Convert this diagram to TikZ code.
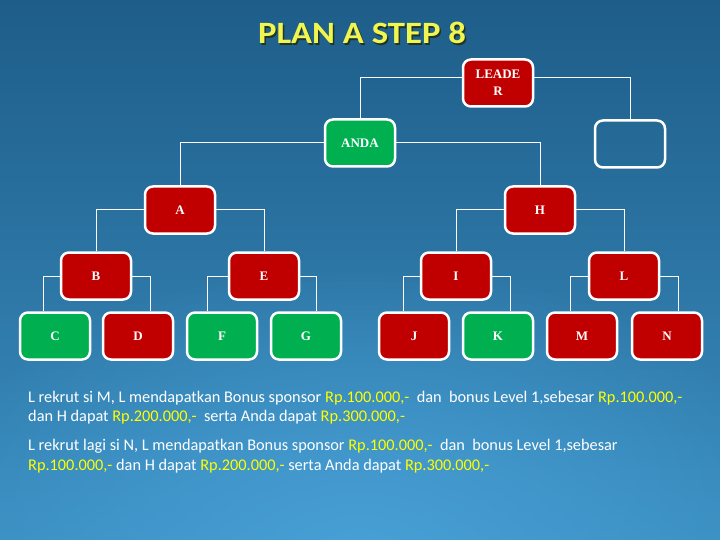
\documentclass[tikz,border=0pt]{standalone}
\usepackage{fontspec}
\setmainfont{Carlito}
\newfontfamily\boxfont{Liberation Serif}
\usetikzlibrary{fadings}
\tikzfading[name=softglow, inner color=transparent!0, outer color=transparent!100]
\definecolor{bgtop}{RGB}{30,93,137}
\definecolor{bgbot}{RGB}{58,142,192}
\definecolor{bglight}{RGB}{72,160,214}
\definecolor{boxred}{RGB}{192,0,0}
\definecolor{boxgreen}{RGB}{0,176,80}
\definecolor{titleyellow}{RGB}{240,246,80}
\definecolor{titleshadow}{RGB}{35,45,20}
\definecolor{hl}{RGB}{255,255,0}
\newcommand{\amt}[1]{\textcolor{hl}{#1}}
\begin{document}
\begin{tikzpicture}[x=1pt,y=-1pt,
  nbox/.style={draw=white, line width=2.5pt, rounded corners=8pt,
    minimum width=70pt, minimum height=47pt, inner sep=0pt, text=white,
    font=\boxfont\bfseries\fontsize{13}{17}\selectfont, align=center},
  rbox/.style={nbox, fill=boxred},
  gbox/.style={nbox, fill=boxgreen},
  ebox/.style={nbox},
  conn/.style={draw=white, line width=1pt},
  bodytext/.style={anchor=base west, inner sep=0pt, text=white,
    font=\fontsize{16.3}{19}\selectfont},
  titletext/.style={inner sep=0pt, font=\bfseries\fontsize{31}{36}\selectfont}]
\useasboundingbox (0,0) rectangle (720,540);
\fill[top color=bgtop, bottom color=bgbot] (0,0) rectangle (720,540);
\fill[bglight, path fading=softglow] (360,560) ellipse (460 and 300);

% title
\node[titletext, text=titleshadow, opacity=0.85] (titleshadow) at (363.5,34.5) {\scalebox{1.12}[1]{PLAN A STEP 8}};
\node[titletext, text=titleyellow] (title) at (362,33) {\scalebox{1.12}[1]{PLAN A STEP 8}};

% boxes
\node[rbox] (leader) at (498,83) {LEADE\\R};
\node[gbox] (anda) at (360,143) {ANDA};
\node[ebox] (empty) at (630,144) {};
\node[rbox] (a) at (180,210) {A};
\node[rbox] (h) at (540,210) {H};
\node[rbox] (b) at (96,276) {B};
\node[rbox] (e) at (264,276) {E};
\node[rbox] (i) at (456,276) {I};
\node[rbox] (l) at (624,276) {L};
\node[gbox] (c) at (55,336) {C};
\node[rbox] (d) at (138,336) {D};
\node[gbox] (f) at (222,336) {F};
\node[gbox] (g) at (306,336) {G};
\node[rbox] (j) at (414,336) {J};
\node[gbox] (k) at (498,336) {K};
\node[rbox] (m) at (582,336) {M};
\node[rbox] (n) at (667,336) {N};

% connectors
\draw[conn] ([yshift=5pt]leader.west) -| (anda.north);
\draw[conn] ([yshift=5pt]leader.east) -| (empty.north);
\draw[conn] (anda.west) -| (a.north);
\draw[conn] (anda.east) -| (h.north);
\draw[conn] (a.west) -| (b.north);
\draw[conn] (a.east) -| (e.north);
\draw[conn] (h.west) -| (i.north);
\draw[conn] (h.east) -| (l.north);
\draw[conn] (b.west) -| ([xshift=-12pt]c.north);
\draw[conn] (b.east) -| ([xshift=12pt]d.north);
\draw[conn] (e.west) -| ([xshift=-15pt]f.north);
\draw[conn] (e.east) -| ([xshift=10pt]g.north);
\draw[conn] (i.west) -| ([xshift=-11pt]j.north);
\draw[conn] (i.east) -| ([xshift=12pt]k.north);
\draw[conn] (l.west) -| ([xshift=-12pt]m.north);
\draw[conn] (l.east) -| ([xshift=11pt]n.north);

% text
\node[bodytext] (p1a) at (28,402) {L rekrut si M, L mendapatkan Bonus sponsor \amt{Rp.100.000,-}\ \ dan\ \ bonus Level 1,sebesar \amt{Rp.100.000,-}};
\node[bodytext] (p1b) at (28,421) {dan H dapat \amt{Rp.200.000,-}\ \ serta Anda dapat \amt{Rp.300.000,-}};
\node[bodytext] (p2a) at (28,450) {L rekrut lagi si N, L mendapatkan Bonus sponsor \amt{Rp.100.000,-}\ \ dan\ \ bonus Level 1,sebesar};
\node[bodytext] (p2b) at (28,470) {\amt{Rp.100.000,-} dan H dapat \amt{Rp.200.000,-} serta Anda dapat \amt{Rp.300.000,-}};
\end{tikzpicture}
\end{document}
